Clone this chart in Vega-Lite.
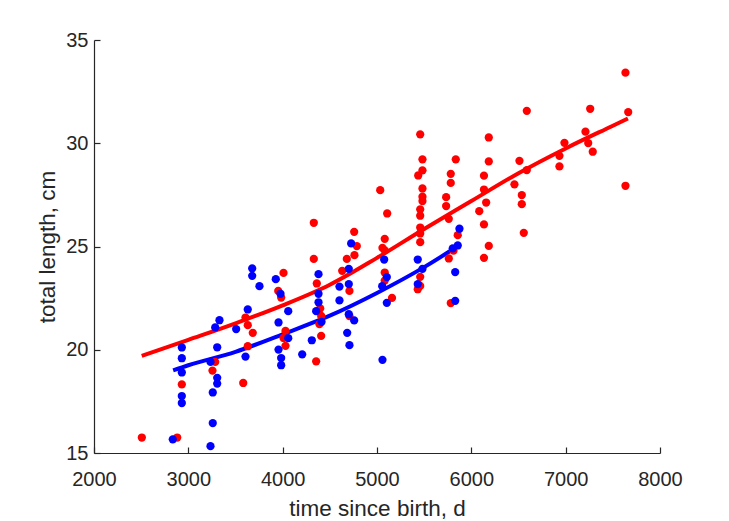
{
  "$schema": "https://vega.github.io/schema/vega-lite/v6.json",
  "width": 566,
  "height": 413,
  "autosize": "none",
  "padding": {"left": 94, "top": 40, "right": 69, "bottom": 68},
  "background": "white",
  "config": {
    "view": {"stroke": null},
    "axis": {
      "domainColor": "#262626", "domainWidth": 1.2,
      "tickColor": "#262626", "tickSize": -6, "tickWidth": 1.2,
      "labelColor": "#262626", "labelFont": "Liberation Sans", "labelFontSize": 20,
      "titleColor": "#262626", "titleFont": "Liberation Sans", "titleFontSize": 22.5, "titleFontWeight": "normal",
      "grid": false, "labelFlush": false, "labelOverlap": false
    }
  },
  "datasets": {
    "fit": [
      {"days": 2506, "length": 19.70, "group": "red"},
      {"days": 3000, "length": 20.48, "group": "red"},
      {"days": 3500, "length": 21.28, "group": "red"},
      {"days": 4000, "length": 22.15, "group": "red"},
      {"days": 4500, "length": 23.15, "group": "red"},
      {"days": 5000, "length": 24.45, "group": "red"},
      {"days": 5500, "length": 25.85, "group": "red"},
      {"days": 6000, "length": 27.20, "group": "red"},
      {"days": 6500, "length": 28.55, "group": "red"},
      {"days": 7000, "length": 29.75, "group": "red"},
      {"days": 7500, "length": 30.85, "group": "red"},
      {"days": 7660, "length": 31.20, "group": "red"},
      {"days": 2839, "length": 19.00, "group": "blue"},
      {"days": 3000, "length": 19.25, "group": "blue"},
      {"days": 3500, "length": 19.90, "group": "blue"},
      {"days": 4000, "length": 20.75, "group": "blue"},
      {"days": 4500, "length": 21.65, "group": "blue"},
      {"days": 5000, "length": 22.75, "group": "blue"},
      {"days": 5500, "length": 24.00, "group": "blue"},
      {"days": 5834, "length": 24.95, "group": "blue"}
    ],
    "pts": [
      {"days": 3606, "length": 21.56, "group": "red"},
      {"days": 3630, "length": 21.19, "group": "red"},
      {"days": 3683, "length": 20.82, "group": "red"},
      {"days": 2931, "length": 18.32, "group": "red"},
      {"days": 3630, "length": 20.17, "group": "red"},
      {"days": 3285, "length": 19.41, "group": "red"},
      {"days": 3256, "length": 18.99, "group": "red"},
      {"days": 3582, "length": 18.39, "group": "red"},
      {"days": 2507, "length": 15.75, "group": "red"},
      {"days": 2882, "length": 15.75, "group": "red"},
      {"days": 5034, "length": 27.73, "group": "red"},
      {"days": 5108, "length": 26.60, "group": "red"},
      {"days": 4330, "length": 26.15, "group": "red"},
      {"days": 4758, "length": 25.71, "group": "red"},
      {"days": 5082, "length": 25.37, "group": "red"},
      {"days": 4786, "length": 25.02, "group": "red"},
      {"days": 5058, "length": 24.93, "group": "red"},
      {"days": 4761, "length": 24.58, "group": "red"},
      {"days": 4680, "length": 24.40, "group": "red"},
      {"days": 4330, "length": 24.40, "group": "red"},
      {"days": 4631, "length": 23.82, "group": "red"},
      {"days": 4009, "length": 23.72, "group": "red"},
      {"days": 5082, "length": 23.74, "group": "red"},
      {"days": 5082, "length": 23.35, "group": "red"},
      {"days": 4362, "length": 23.21, "group": "red"},
      {"days": 4708, "length": 22.85, "group": "red"},
      {"days": 3953, "length": 22.85, "group": "red"},
      {"days": 3984, "length": 22.53, "group": "red"},
      {"days": 5159, "length": 22.51, "group": "red"},
      {"days": 4398, "length": 22.00, "group": "red"},
      {"days": 4408, "length": 21.64, "group": "red"},
      {"days": 4708, "length": 21.63, "group": "red"},
      {"days": 4390, "length": 21.24, "group": "red"},
      {"days": 4030, "length": 20.91, "group": "red"},
      {"days": 4009, "length": 20.57, "group": "red"},
      {"days": 4408, "length": 20.67, "group": "red"},
      {"days": 4030, "length": 20.19, "group": "red"},
      {"days": 4355, "length": 19.44, "group": "red"},
      {"days": 5458, "length": 30.43, "group": "red"},
      {"days": 6185, "length": 30.28, "group": "red"},
      {"days": 5482, "length": 29.22, "group": "red"},
      {"days": 5835, "length": 29.22, "group": "red"},
      {"days": 5482, "length": 28.69, "group": "red"},
      {"days": 5437, "length": 28.44, "group": "red"},
      {"days": 5782, "length": 28.52, "group": "red"},
      {"days": 5782, "length": 28.08, "group": "red"},
      {"days": 6185, "length": 29.12, "group": "red"},
      {"days": 6134, "length": 28.43, "group": "red"},
      {"days": 6134, "length": 27.76, "group": "red"},
      {"days": 5482, "length": 27.81, "group": "red"},
      {"days": 5482, "length": 27.41, "group": "red"},
      {"days": 5482, "length": 27.20, "group": "red"},
      {"days": 5733, "length": 27.39, "group": "red"},
      {"days": 5733, "length": 26.96, "group": "red"},
      {"days": 5458, "length": 26.80, "group": "red"},
      {"days": 5458, "length": 26.49, "group": "red"},
      {"days": 6157, "length": 27.13, "group": "red"},
      {"days": 6084, "length": 26.71, "group": "red"},
      {"days": 5761, "length": 26.34, "group": "red"},
      {"days": 6134, "length": 26.07, "group": "red"},
      {"days": 5458, "length": 25.92, "group": "red"},
      {"days": 5458, "length": 25.63, "group": "red"},
      {"days": 5856, "length": 25.55, "group": "red"},
      {"days": 5458, "length": 25.21, "group": "red"},
      {"days": 6185, "length": 25.03, "group": "red"},
      {"days": 5082, "length": 24.81, "group": "red"},
      {"days": 6134, "length": 24.45, "group": "red"},
      {"days": 5811, "length": 24.80, "group": "red"},
      {"days": 5761, "length": 24.42, "group": "red"},
      {"days": 5458, "length": 23.53, "group": "red"},
      {"days": 5458, "length": 23.09, "group": "red"},
      {"days": 5432, "length": 22.93, "group": "red"},
      {"days": 5782, "length": 22.26, "group": "red"},
      {"days": 7634, "length": 33.42, "group": "red"},
      {"days": 6588, "length": 31.57, "group": "red"},
      {"days": 7260, "length": 31.67, "group": "red"},
      {"days": 7663, "length": 31.51, "group": "red"},
      {"days": 7210, "length": 30.56, "group": "red"},
      {"days": 6987, "length": 30.02, "group": "red"},
      {"days": 7239, "length": 30.01, "group": "red"},
      {"days": 7287, "length": 29.59, "group": "red"},
      {"days": 6934, "length": 29.39, "group": "red"},
      {"days": 6934, "length": 28.88, "group": "red"},
      {"days": 6510, "length": 29.15, "group": "red"},
      {"days": 6588, "length": 28.70, "group": "red"},
      {"days": 6457, "length": 28.01, "group": "red"},
      {"days": 6535, "length": 27.49, "group": "red"},
      {"days": 6535, "length": 27.05, "group": "red"},
      {"days": 6556, "length": 25.66, "group": "red"},
      {"days": 7634, "length": 27.94, "group": "red"},
      {"days": 3677, "length": 23.94, "group": "blue"},
      {"days": 3677, "length": 23.58, "group": "blue"},
      {"days": 3754, "length": 23.08, "group": "blue"},
      {"days": 3630, "length": 21.95, "group": "blue"},
      {"days": 3330, "length": 21.43, "group": "blue"},
      {"days": 3285, "length": 21.08, "group": "blue"},
      {"days": 3507, "length": 21.00, "group": "blue"},
      {"days": 2931, "length": 20.11, "group": "blue"},
      {"days": 2931, "length": 19.59, "group": "blue"},
      {"days": 2931, "length": 18.90, "group": "blue"},
      {"days": 2931, "length": 17.76, "group": "blue"},
      {"days": 2931, "length": 17.42, "group": "blue"},
      {"days": 3306, "length": 20.12, "group": "blue"},
      {"days": 3606, "length": 19.67, "group": "blue"},
      {"days": 3235, "length": 19.41, "group": "blue"},
      {"days": 3306, "length": 18.64, "group": "blue"},
      {"days": 3306, "length": 18.36, "group": "blue"},
      {"days": 3259, "length": 17.93, "group": "blue"},
      {"days": 3259, "length": 16.45, "group": "blue"},
      {"days": 2835, "length": 15.66, "group": "blue"},
      {"days": 3235, "length": 15.33, "group": "blue"},
      {"days": 4726, "length": 25.15, "group": "blue"},
      {"days": 5076, "length": 24.37, "group": "blue"},
      {"days": 4701, "length": 23.92, "group": "blue"},
      {"days": 4380, "length": 23.66, "group": "blue"},
      {"days": 5104, "length": 23.52, "group": "blue"},
      {"days": 3927, "length": 23.42, "group": "blue"},
      {"days": 4602, "length": 23.06, "group": "blue"},
      {"days": 4701, "length": 23.18, "group": "blue"},
      {"days": 5055, "length": 23.08, "group": "blue"},
      {"days": 3977, "length": 22.71, "group": "blue"},
      {"days": 4380, "length": 22.71, "group": "blue"},
      {"days": 4380, "length": 22.30, "group": "blue"},
      {"days": 4602, "length": 22.39, "group": "blue"},
      {"days": 5104, "length": 22.27, "group": "blue"},
      {"days": 4059, "length": 21.87, "group": "blue"},
      {"days": 4355, "length": 21.87, "group": "blue"},
      {"days": 4701, "length": 21.72, "group": "blue"},
      {"days": 4758, "length": 21.42, "group": "blue"},
      {"days": 3956, "length": 21.32, "group": "blue"},
      {"days": 4412, "length": 21.35, "group": "blue"},
      {"days": 4059, "length": 20.56, "group": "blue"},
      {"days": 4684, "length": 20.82, "group": "blue"},
      {"days": 4309, "length": 20.46, "group": "blue"},
      {"days": 4708, "length": 20.22, "group": "blue"},
      {"days": 3956, "length": 20.01, "group": "blue"},
      {"days": 4207, "length": 19.78, "group": "blue"},
      {"days": 3984, "length": 19.60, "group": "blue"},
      {"days": 3984, "length": 19.25, "group": "blue"},
      {"days": 5058, "length": 19.51, "group": "blue"},
      {"days": 5874, "length": 25.86, "group": "blue"},
      {"days": 5856, "length": 25.05, "group": "blue"},
      {"days": 5803, "length": 24.91, "group": "blue"},
      {"days": 5432, "length": 24.37, "group": "blue"},
      {"days": 5482, "length": 23.92, "group": "blue"},
      {"days": 5829, "length": 23.76, "group": "blue"},
      {"days": 5432, "length": 23.18, "group": "blue"},
      {"days": 5829, "length": 22.37, "group": "blue"}
    ]
  },
  "encoding": {
    "x": {
      "field": "days", "type": "quantitative",
      "scale": {"domain": [2000, 8000], "nice": false, "zero": false},
      "axis": {"title": "time since birth, d", "values": [2000, 3000, 4000, 5000, 6000, 7000, 8000], "format": "d", "labelPadding": 22, "titleBaseline": "alphabetic", "titleY": 62.3}
    },
    "y": {
      "field": "length", "type": "quantitative",
      "scale": {"domain": [15, 35], "nice": false, "zero": false},
      "axis": {"title": "total length, cm", "values": [15, 20, 25, 30, 35], "labelPadding": 12, "titleBaseline": "alphabetic", "titleX": -40}
    },
    "color": {
      "field": "group", "type": "nominal",
      "scale": {"domain": ["red", "blue"], "range": ["#ff0000", "#0000ff"]},
      "legend": null
    }
  },
  "layer": [
    {
      "data": {"name": "fit"},
      "mark": {"type": "line", "strokeWidth": 4, "interpolate": "monotone"}
    },
    {
      "data": {"name": "pts"},
      "mark": {"type": "circle", "size": 68, "opacity": 1}
    }
  ]
}
